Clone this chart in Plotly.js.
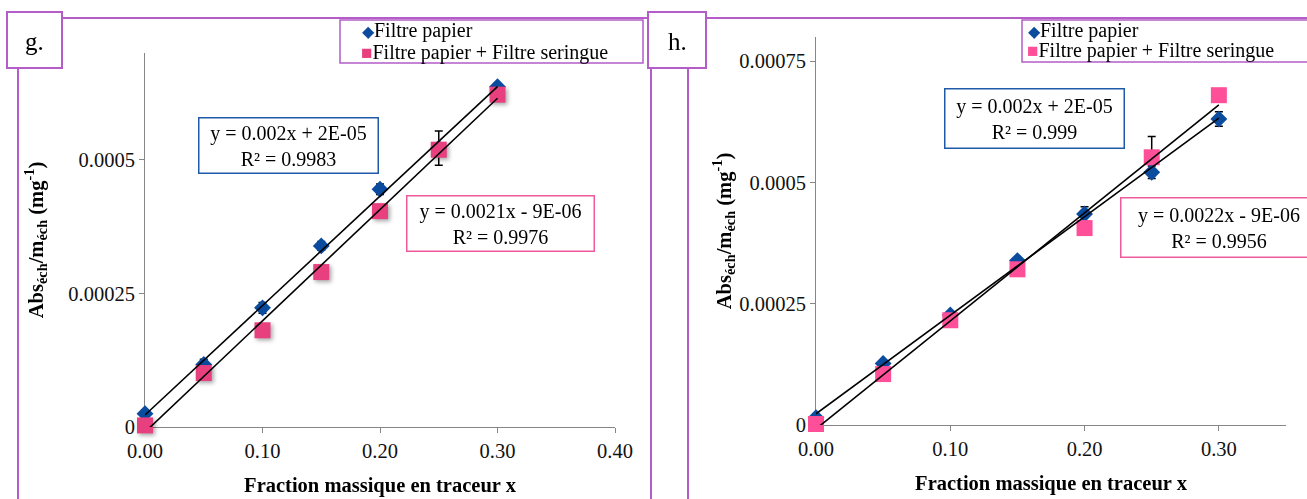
<!DOCTYPE html>
<html><head><meta charset="utf-8">
<script src="https://cdn.plot.ly/plotly-3.0.1.min.js"></script>
<style>html,body{margin:0;padding:0;background:#fff}#chart{width:1307px;height:499px}</style>
</head><body><div id="chart"></div>
<script>
// ---------- data ----------
const fractions = [0, 0.05, 0.10, 0.15, 0.20, 0.25, 0.30];
const seriesNames = ['Filtre papier', 'Filtre papier + Filtre seringue'];

// panel g
const gPapier      = [0.000025, 0.000117, 0.000223, 0.000339, 0.000445, 0.000522, 0.000637];
const gPapierErr   = [0.000004, 0.000010, 0.000010, 0.000008, 0.000010, 0.000032, 0.000004];
const gSeringue    = [0.000003, 0.000101, 0.000181, 0.000290, 0.000404, 0.000519, 0.000622];

// panel h
const hPapier      = [0.000015, 0.000127, 0.000227, 0.000339, 0.000435, 0.000521, 0.000631];
const hPapierErr   = [0.000003, 0.000006, 0.000006, 0.000006, 0.000015, 0.000013, 0.000015];
const hSeringue    = [0.000002, 0.000105, 0.000216, 0.000321, 0.000406, 0.000552, 0.000680];
const hSeringueErrPlus  = [0, 0, 0, 0, 0, 0.000043, 0];
const hSeringueErrMinus = [0, 0, 0, 0, 0, 0, 0];

// ticks
const xTickValsG = [0, 0.1, 0.2, 0.3, 0.4];
const xTickTextG = ['0.00', '0.10', '0.20', '0.30', '0.40'];
const yTickValsG = [0, 0.00025, 0.0005];
const yTickTextG = ['0', '0.00025', '0.0005'];
const xTickValsH = [0, 0.1, 0.2, 0.3];
const xTickTextH = ['0.00', '0.10', '0.20', '0.30'];
const yTickValsH = [0, 0.00025, 0.0005, 0.00075];
const yTickTextH = ['0', '0.00025', '0.0005', '0.00075'];

// trendline labels
const eqG = ['y = 0.002x + 2E-05<br>R² = 0.9983', 'y = 0.0021x - 9E-06<br>R² = 0.9976'];
const eqH = ['y = 0.002x + 2E-05<br>R² = 0.999', 'y = 0.0022x - 9E-06<br>R² = 0.9956'];
const panelLabels = ['g.', 'h.'];
const xTitle = '<b>Fraction massique en traceur x</b>';
const yTitle = '<b>Abs<sub>éch</sub>/m<sub>éch</sub> (mg<sup>-1</sup>)</b>';

// ---------- helpers ----------
const W = 1307, H = 499;
const px = x => x / W, py = y => 1 - y / H;
const FONT = 'Liberation Serif';
const BLUE = '#0B4C9F', PINK_G = '#E8407F', PINK_H = '#FF4F98', PURPLE = '#B45CC8';
const FS = 20.5;

function linfit(xs, ys) {
  const n = xs.length;
  const mx = xs.reduce((a, b) => a + b, 0) / n;
  const my = ys.reduce((a, b) => a + b, 0) / n;
  let sxy = 0, sxx = 0;
  for (let i = 0; i < n; i++) { sxy += (xs[i] - mx) * (ys[i] - my); sxx += (xs[i] - mx) ** 2; }
  const m = sxy / sxx;
  return { m, b: my - m * mx };
}
function trend(xs, ys, xa, ya) {
  const f = linfit(xs, ys);
  const x0 = Math.min(...xs), x1 = Math.max(...xs);
  return { x: [x0, x1], y: [f.m * x0 + f.b, f.m * x1 + f.b], mode: 'lines', xaxis: xa, yaxis: ya,
           line: { color: '#000', width: 1.6 }, showlegend: false, hoverinfo: 'skip' };
}
function pts(ys, name, sym, color, size, xa, ya, err) {
  const t = { x: fractions, y: ys, name, mode: 'markers', xaxis: xa, yaxis: ya, showlegend: false,
    marker: { symbol: sym, color, size }, cliponaxis: false };
  if (err) t.error_y = Object.assign({ type: 'data', color: '#000', thickness: 1.5, width: 4, visible: true }, err);
  return t;
}

const traces = [
  pts(gPapier, seriesNames[0], 'diamond', BLUE, 13, 'x', 'y', { array: gPapierErr }),
  pts(gSeringue, seriesNames[1], 'square', PINK_G, 16, 'x', 'y'),
  trend(fractions, gPapier, 'x', 'y'),
  trend(fractions, gSeringue, 'x', 'y'),
  pts(hPapier, seriesNames[0], 'diamond', BLUE, 13, 'x2', 'y2', { array: hPapierErr }),
  pts(hSeringue, seriesNames[1], 'square', PINK_H, 16, 'x2', 'y2',
      { symmetric: false, array: hSeringueErrPlus, arrayminus: hSeringueErrMinus }),
  trend(fractions, hPapier, 'x2', 'y2'),
  trend(fractions, hSeringue, 'x2', 'y2'),
];

const axisBase = {
  showline: true, linecolor: '#868686', linewidth: 1, ticks: 'outside', ticklen: 5, tickcolor: '#868686',
  showgrid: false, zeroline: false, layer: 'below traces', fixedrange: true,
  tickfont: { family: FONT, size: FS, color: '#111' }, tickmode: 'array'
};
const titleFont = { family: FONT, size: FS, color: '#000' };

function rect(x0, y0, x1, y1, color, width) {
  return { type: 'rect', xref: 'paper', yref: 'paper', x0: px(x0), x1: px(x1), y0: py(y1), y1: py(y0),
           line: { color, width }, fillcolor: '#fff', layer: 'below' };
}
function seg(x0, y0, x1, y1) {
  return { type: 'line', xref: 'paper', yref: 'paper', x0: px(x0), x1: px(x1), y0: py(y0), y1: py(y1),
           line: { color: PURPLE, width: 2 }, layer: 'below' };
}
function eqBox(text, cx, cy, w, h, color) {
  return { text, xref: 'paper', yref: 'paper', x: px(cx), y: py(cy), xanchor: 'center', yanchor: 'middle',
           showarrow: false, width: w, height: h, align: 'center', bgcolor: '#fff', bordercolor: color,
           borderwidth: 1.5, borderpad: 1, font: { family: FONT, size: 20, color: '#000' } };
}
function label(text, cx, cy) {
  return { text, xref: 'paper', yref: 'paper', x: px(cx), y: py(cy), xanchor: 'center', yanchor: 'middle',
           showarrow: false, font: { family: FONT, size: 25, color: '#000' } };
}
function legendLine(sym, symColor, symSize, name, x, cy) {
  return { text: `<span style="color:${symColor};font-size:${symSize}px">${sym}</span>${name}`,
           xref: 'paper', yref: 'paper', x: px(x), y: py(cy), xanchor: 'left', yanchor: 'middle',
           showarrow: false, font: { family: FONT, size: 20, color: '#000' } };
}

const layout = {
  width: W, height: H, margin: { l: 0, r: 0, t: 0, b: 0 }, paper_bgcolor: '#fff', plot_bgcolor: 'rgba(0,0,0,0)',
  showlegend: false,
  xaxis: Object.assign({}, axisBase, { domain: [px(145), px(615)], range: [0, 0.4], anchor: 'y',
    tickvals: xTickValsG, ticktext: xTickTextG, title: { text: xTitle, font: titleFont, standoff: 17 } }),
  yaxis: Object.assign({}, axisBase, { domain: [py(427), py(53)], range: [0, 0.0007], anchor: 'x',
    tickvals: yTickValsG, ticktext: yTickTextG, title: { text: yTitle, font: titleFont, standoff: 19 } }),
  xaxis2: Object.assign({}, axisBase, { domain: [px(816), px(1286)], range: [0, 0.35], anchor: 'y2',
    tickvals: xTickValsH, ticktext: xTickTextH, title: { text: xTitle, font: titleFont, standoff: 17 } }),
  yaxis2: Object.assign({}, axisBase, { domain: [py(425), py(37)], range: [0, 0.0008], anchor: 'x2',
    tickvals: yTickValsH, ticktext: yTickTextH, title: { text: yTitle, font: titleFont, standoff: 2 } }),
  shapes: [
    seg(62, 18, 651, 18), seg(651, 18, 651, 499), seg(18, 68, 18, 499),
    seg(705, 18, 1307, 18), seg(688, 68, 688, 499),
    rect(7, 12, 62, 68, PURPLE, 2), rect(648, 12, 706, 68, PURPLE, 2),
    rect(340, 20, 643, 63, PURPLE, 1.5), rect(1022, 20, 1312, 62, PURPLE, 1.5)
  ],
  annotations: [
    label(panelLabels[0], 34.5, 42), label(panelLabels[1], 677, 42),
    eqBox(eqG[0], 288.5, 145.5, 176, 52, '#1F5BA8'),
    eqBox(eqG[1], 500, 223, 184, 52, '#EE5A9C'),
    eqBox(eqH[0], 1034, 118, 176, 56, '#1F5BA8'),
    eqBox(eqH[1], 1219, 227.5, 193, 56, '#EE5A9C'),
    legendLine('◆', BLUE, 16, seriesNames[0], 360, 31),
    legendLine('■', PINK_G, 19, seriesNames[1], 359, 52),
    legendLine('◆', BLUE, 16, seriesNames[0], 1026, 31),
    legendLine('■', PINK_H, 19, seriesNames[1], 1025, 51)
  ]
};

Plotly.newPlot('chart', traces, layout, { staticPlot: true, displayModeBar: false }).then(gd => {
  // soft shadow under the pink squares of panel g, as in the reference
  gd.querySelectorAll('.scatterlayer .trace').forEach(el => {
    const d = el.__data__ && el.__data__[0];
    if (d && d.trace && d.trace.index === 1) {
      el.querySelectorAll('.points').forEach(p => { p.style.filter = 'drop-shadow(2px 2px 2px rgba(0,0,0,0.35))'; });
    }
  });
});
</script>
</body></html>
